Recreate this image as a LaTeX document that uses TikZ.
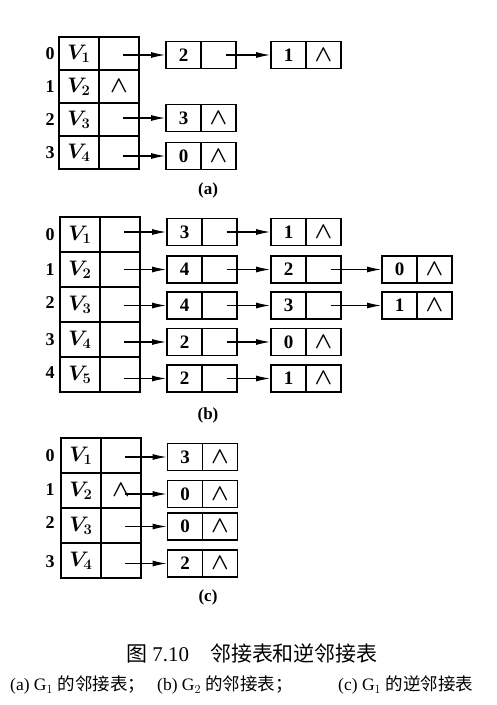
\RequirePackage{fix-cm}
\documentclass[tikz,border=0pt]{standalone}
\usepackage{amsmath}
\usepackage{amssymb}
\usepackage{fontspec}
\setmainfont{Liberation Serif}
\newfontfamily\cjk{Noto Sans CJK SC}
\usepackage{tikz}
\usetikzlibrary{arrows.meta,positioning}
\newcommand{\nilmark}{{\fontsize{23}{23}\selectfont$\boldsymbol{\wedge}$}}

\begin{document}
\begin{tikzpicture}[x=1pt,y=-1pt,
  hcell/.style={draw,line width=1.8pt,minimum width=40pt,minimum height=33pt,inner sep=0pt,font=\fontsize{21}{24}\selectfont},
  lcell/.style={draw,line width=1.8pt,minimum width=35pt,minimum height=27pt,inner sep=0pt,font=\bfseries\fontsize{19}{22}\selectfont},
  idx/.style={font=\bfseries\fontsize{18}{21}\selectfont},
  sublabel/.style={font=\bfseries\fontsize{17}{20}\selectfont},
  link/.style={line width=1.1pt,-{Latex[length=14pt,width=6pt]}}]
\useasboundingbox (0,0) rectangle (497,705);
% (a)
\node[idx] (ai0) at (50,53.5) {0};
\node[idx] (ai1) at (50,86.5) {1};
\node[idx] (ai2) at (50,119.5) {2};
\node[idx] (ai3) at (50,152.5) {3};
\node[hcell] (av0) at (79,53.5) {$\boldsymbol{V_1}$};
\node[hcell] (ap0) at (119,53.5) {};
\node[hcell] (av1) at (79,86.5) {$\boldsymbol{V_2}$};
\node[hcell] (ap1) at (119,86.5) {\nilmark};
\node[hcell] (av2) at (79,119.5) {$\boldsymbol{V_3}$};
\node[hcell] (ap2) at (119,119.5) {};
\node[hcell] (av3) at (79,152.5) {$\boldsymbol{V_4}$};
\node[hcell] (ap3) at (119,152.5) {};
\node[lcell] (a0x1) at (183.5,55) {2};
\node[lcell] (a0y1) at (218.5,55) {};
\node[lcell] (a0x2) at (288.5,55) {1};
\node[lcell] (a0y2) at (323.5,55) {\nilmark};
\node[lcell] (a2x1) at (183.5,118) {3};
\node[lcell] (a2y1) at (218.5,118) {\nilmark};
\node[lcell] (a3x1) at (183.5,156) {0};
\node[lcell] (a3y1) at (218.5,156) {\nilmark};
\draw[link] ([xshift=4pt]ap0.center |- a0x1) -- (a0x1.west);
\draw[link] ([xshift=7pt]a0y1.center) -- (a0x2.west);
\draw[link] ([xshift=4pt]ap2.center |- a2x1) -- (a2x1.west);
\draw[link] ([xshift=4pt]ap3.center |- a3x1) -- (a3x1.west);
\node[sublabel] (alabel) at (208,190) {(a)};
% (b)
\node[idx] (bi0) at (50,234.5) {0};
\node[idx] (bi1) at (50,269.5) {1};
\node[idx] (bi2) at (50,302.5) {2};
\node[idx] (bi3) at (50,339.5) {3};
\node[idx] (bi4) at (50,373) {4};
\begin{scope}[hcell/.append style={minimum height=35pt}]
\node[hcell] (bv0) at (80,234.5) {$\boldsymbol{V_1}$};
\node[hcell] (bp0) at (120,234.5) {};
\node[hcell] (bv1) at (80,269.5) {$\boldsymbol{V_2}$};
\node[hcell] (bp1) at (120,269.5) {};
\node[hcell] (bv2) at (80,304.5) {$\boldsymbol{V_3}$};
\node[hcell] (bp2) at (120,304.5) {};
\node[hcell] (bv3) at (80,339.5) {$\boldsymbol{V_4}$};
\node[hcell] (bp3) at (120,339.5) {};
\node[hcell] (bv4) at (80,374.5) {$\boldsymbol{V_5}$};
\node[hcell] (bp4) at (120,374.5) {};
\end{scope}
\node[lcell] (b0x1) at (184.5,232) {3};
\node[lcell] (b0y1) at (219.5,232) {};
\node[lcell] (b0x2) at (288.5,232) {1};
\node[lcell] (b0y2) at (323.5,232) {\nilmark};
\node[lcell] (b1x1) at (184.5,269.5) {4};
\node[lcell] (b1y1) at (219.5,269.5) {};
\node[lcell] (b1x2) at (288.5,269.5) {2};
\node[lcell] (b1y2) at (323.5,269.5) {};
\node[lcell] (b1x3) at (399.5,269.5) {0};
\node[lcell] (b1y3) at (434.5,269.5) {\nilmark};
\node[lcell] (b2x1) at (184.5,305.5) {4};
\node[lcell] (b2y1) at (219.5,305.5) {};
\node[lcell] (b2x2) at (288.5,305.5) {3};
\node[lcell] (b2y2) at (323.5,305.5) {};
\node[lcell] (b2x3) at (399.5,305.5) {1};
\node[lcell] (b2y3) at (434.5,305.5) {\nilmark};
\node[lcell] (b3x1) at (184.5,342) {2};
\node[lcell] (b3y1) at (219.5,342) {};
\node[lcell] (b3x2) at (288.5,342) {0};
\node[lcell] (b3y2) at (323.5,342) {\nilmark};
\node[lcell] (b4x1) at (184.5,378.5) {2};
\node[lcell] (b4y1) at (219.5,378.5) {};
\node[lcell] (b4x2) at (288.5,378.5) {1};
\node[lcell] (b4y2) at (323.5,378.5) {\nilmark};
\draw[link] ([xshift=4pt]bp0.center |- b0x1) -- (b0x1.west);
\draw[link] ([xshift=7pt]b0y1.center) -- (b0x2.west);
\draw[link] ([xshift=4pt]bp1.center |- b1x1) -- (b1x1.west);
\draw[link] ([xshift=7pt]b1y1.center) -- (b1x2.west);
\draw[link] ([xshift=7pt]b1y2.center) -- (b1x3.west);
\draw[link] ([xshift=4pt]bp2.center |- b2x1) -- (b2x1.west);
\draw[link] ([xshift=7pt]b2y1.center) -- (b2x2.west);
\draw[link] ([xshift=7pt]b2y2.center) -- (b2x3.west);
\draw[link] ([xshift=4pt]bp3.center |- b3x1) -- (b3x1.west);
\draw[link] ([xshift=7pt]b3y1.center) -- (b3x2.west);
\draw[link] ([xshift=4pt]bp4.center |- b4x1) -- (b4x1.west);
\draw[link] ([xshift=7pt]b4y1.center) -- (b4x2.west);
\node[sublabel] (blabel) at (208,415) {(b)};
% (c)
\node[idx] (ci0) at (50,455.5) {0};
\node[idx] (ci1) at (50,490) {1};
\node[idx] (ci2) at (50,522.5) {2};
\node[idx] (ci3) at (50,562) {3};
\begin{scope}[hcell/.append style={minimum height=35pt}]
\node[hcell] (cv0) at (81,455.5) {$\boldsymbol{V_1}$};
\node[hcell] (cp0) at (121,455.5) {};
\node[hcell] (cv1) at (81,490.5) {$\boldsymbol{V_2}$};
\node[hcell] (cp1) at (121,490.5) {\nilmark\hspace{10pt}};
\node[hcell] (cv2) at (81,525.5) {$\boldsymbol{V_3}$};
\node[hcell] (cp2) at (121,525.5) {};
\node[hcell] (cv3) at (81,560.5) {$\boldsymbol{V_4}$};
\node[hcell] (cp3) at (121,560.5) {};
\end{scope}
\node[lcell] (c0x1) at (185,457) {3};
\node[lcell] (c0y1) at (220,457) {\nilmark};
\node[lcell] (c1x1) at (185,494) {0};
\node[lcell] (c1y1) at (220,494) {\nilmark};
\node[lcell] (c2x1) at (185,526.5) {0};
\node[lcell] (c2y1) at (220,526.5) {\nilmark};
\node[lcell] (c3x1) at (185,563.5) {2};
\node[lcell] (c3y1) at (220,563.5) {\nilmark};
\draw[link] ([xshift=4pt]cp0.center |- c0x1) -- (c0x1.west);
\draw[link] ([xshift=4pt]cp1.center |- c1x1) -- (c1x1.west);
\draw[link] ([xshift=4pt]cp2.center |- c2x1) -- (c2x1.west);
\draw[link] ([xshift=4pt]cp3.center |- c3x1) -- (c3x1.west);
\node[sublabel] (clabel) at (208,597) {(c)};
% caption
\node (title) at (252,653) {\fontsize{21}{24}\selectfont{\cjk 图} 7.10\quad{\cjk 邻接表和逆邻接表}};
\node[anchor=west,inner sep=0pt,font=\fontsize{17.5}{20}\selectfont] (capa) at (10,685) {(a) G$_1$ {\cjk 的邻接表；}};
\node[anchor=west,inner sep=0pt,font=\fontsize{17.5}{20}\selectfont] (capb) at (157,685) {(b) G$_2$ {\cjk 的邻接表；}};
\node[anchor=west,inner sep=0pt,font=\fontsize{17.5}{20}\selectfont] (capc) at (338,685) {(c) G$_1$ {\cjk 的逆邻接表}};
\end{tikzpicture}
\end{document}
